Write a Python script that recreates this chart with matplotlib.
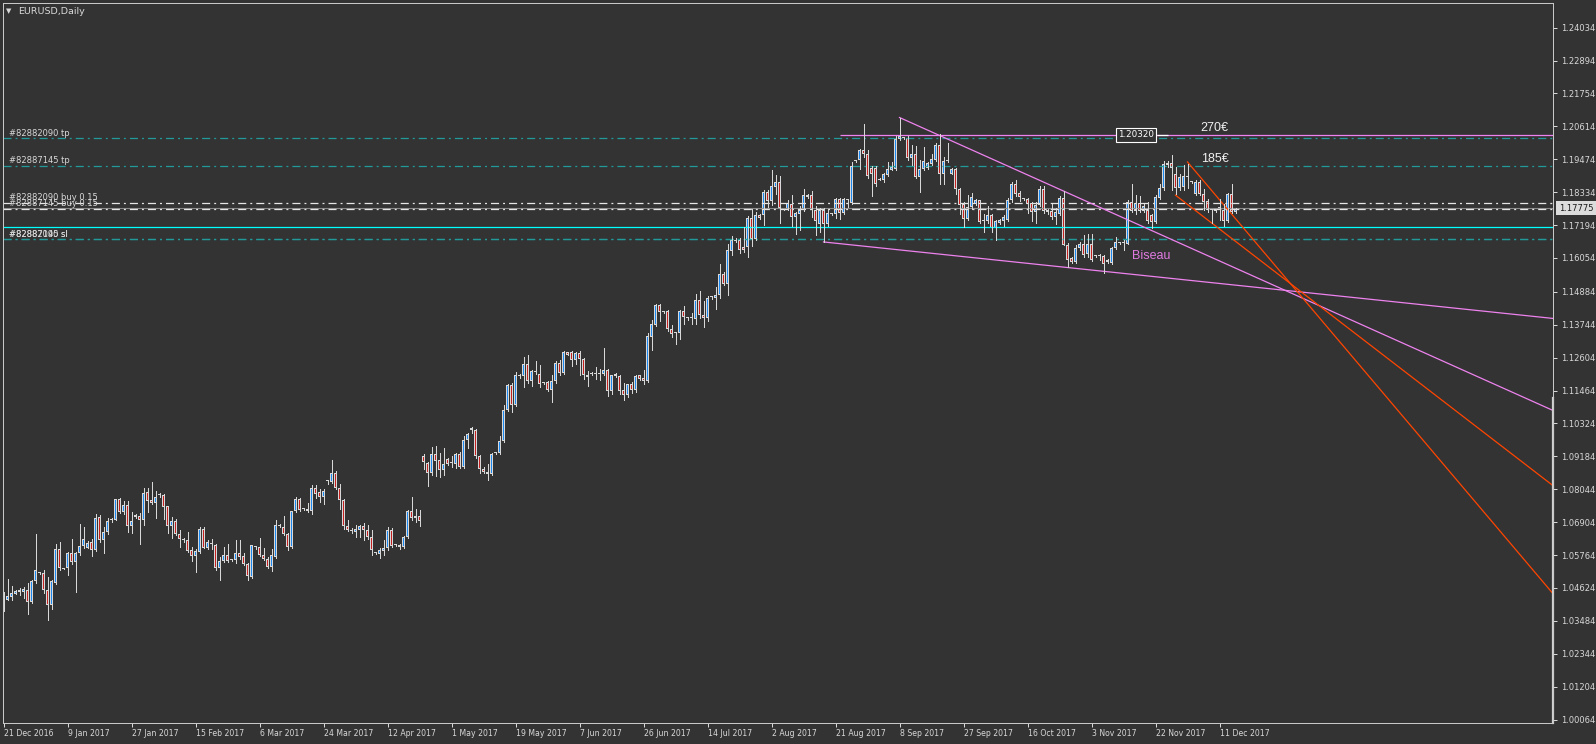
import numpy as np
import matplotlib
matplotlib.use('Agg')
import matplotlib.pyplot as plt
from matplotlib.transforms import blended_transform_factory

plt.rcParams['lines.scale_dashes'] = False

# ---- EURUSD daily bars (index 0 = 21 Dec 2016)
opens = [
    1.0388, 1.0422, 1.0431, 1.0443, 1.0449, 1.0449, 1.0457, 1.0413, 1.0487, 1.0516,
    1.0515, 1.0457, 1.0405, 1.0481, 1.0599, 1.0529, 1.0530, 1.0582, 1.0553, 1.0582,
    1.0607, 1.0602, 1.0620, 1.0593, 1.0709, 1.0628, 1.0655, 1.0699, 1.0699, 1.0770,
    1.0726, 1.0749, 1.0678, 1.0715, 1.0711, 1.0697, 1.0795, 1.0766, 1.0757, 1.0786,
    1.0784, 1.0745, 1.0677, 1.0694, 1.0651, 1.0630, 1.0630, 1.0593, 1.0573, 1.0587,
    1.0666, 1.0602, 1.0614, 1.0610, 1.0533, 1.0555, 1.0575, 1.0558, 1.0558, 1.0585,
    1.0572, 1.0546, 1.0501, 1.0605, 1.0605, 1.0578, 1.0564, 1.0535, 1.0570, 1.0678,
    1.0675, 1.0648, 1.0605, 1.0728, 1.0769, 1.0737, 1.0737, 1.0729, 1.0810, 1.0794,
    1.0778, 1.0833, 1.0829, 1.0862, 1.0810, 1.0766, 1.0678, 1.0660, 1.0656, 1.0665,
    1.0676, 1.0665, 1.0639, 1.0583, 1.0581, 1.0591, 1.0602, 1.0665, 1.0611, 1.0610,
    1.0605, 1.0639, 1.0728, 1.0713, 1.0713, 1.0919, 1.0897, 1.0862, 1.0926, 1.0904,
    1.0872, 1.0908, 1.0896, 1.0893, 1.0926, 1.0882, 1.0976, 1.1018, 1.1011, 1.0921,
    1.0876, 1.0864, 1.0856, 1.0930, 1.0931, 1.0972, 1.1078, 1.1165, 1.1097, 1.1196,
    1.1196, 1.1237, 1.1180, 1.1212, 1.1205, 1.1172, 1.1175, 1.1147, 1.1178, 1.1240,
    1.1208, 1.1279, 1.1279, 1.1253, 1.1275, 1.1256, 1.1201, 1.1204, 1.1205, 1.1204,
    1.1205, 1.1217, 1.1145, 1.1205, 1.1196, 1.1147, 1.1130, 1.1168, 1.1147, 1.1199,
    1.1191, 1.1178, 1.1332, 1.1372, 1.1442, 1.1419, 1.1421, 1.1361, 1.1346, 1.1346,
    1.1421, 1.1397, 1.1399, 1.1395, 1.1461, 1.1409, 1.1399, 1.1470, 1.1468, 1.1476,
    1.1551, 1.1517, 1.1630, 1.1663, 1.1667, 1.1644, 1.1644, 1.1745, 1.1670, 1.1753,
    1.1753, 1.1834, 1.1803, 1.1851, 1.1869, 1.1773, 1.1773, 1.1794, 1.1748, 1.1759,
    1.1771, 1.1823, 1.1823, 1.1773, 1.1722, 1.1773, 1.1724, 1.1757, 1.1759, 1.1811,
    1.1761, 1.1805, 1.1796, 1.1941, 1.1944, 1.1978, 1.1967, 1.1918, 1.1918, 1.1878,
    1.1875, 1.1892, 1.1911, 1.1915, 1.2017, 1.2020, 1.2022, 1.1953, 1.1965, 1.1886,
    1.1915, 1.1918, 1.1930, 1.1946, 1.1996, 1.1895, 1.1940, 1.1898, 1.1915, 1.1846,
    1.1794, 1.1742, 1.1782, 1.1791, 1.1805, 1.1733, 1.1734, 1.1756, 1.1711, 1.1727,
    1.1734, 1.1738, 1.1808, 1.1860, 1.1832, 1.1810, 1.1810, 1.1796, 1.1765, 1.1788,
    1.1846, 1.1771, 1.1768, 1.1748, 1.1759, 1.1814, 1.1652, 1.1606, 1.1592, 1.1641,
    1.1653, 1.1618, 1.1653, 1.1612, 1.1612, 1.1611, 1.1600, 1.1588, 1.1641, 1.1657,
    1.1658, 1.1655, 1.1799, 1.1768, 1.1796, 1.1768, 1.1771, 1.1753, 1.1730, 1.1814,
    1.1849, 1.1935, 1.1935, 1.1898, 1.1849, 1.1851, 1.1886, 1.1869, 1.1828, 1.1869,
    1.1828, 1.1803, 1.1773, 1.1768, 1.1771, 1.1773, 1.1734, 1.1826, 1.1765,
]
highs = [
    1.0449, 1.0495, 1.0468, 1.0457, 1.0464, 1.0466, 1.0478, 1.0491, 1.0651, 1.0517,
    1.0526, 1.0501, 1.0491, 1.0614, 1.0620, 1.0531, 1.0586, 1.0631, 1.0586, 1.0683,
    1.0672, 1.0625, 1.0633, 1.0718, 1.0714, 1.0672, 1.0706, 1.0706, 1.0769, 1.0773,
    1.0764, 1.0764, 1.0726, 1.0718, 1.0722, 1.0810, 1.0809, 1.0829, 1.0797, 1.0790,
    1.0789, 1.0748, 1.0709, 1.0702, 1.0665, 1.0636, 1.0655, 1.0606, 1.0599, 1.0675,
    1.0675, 1.0628, 1.0631, 1.0614, 1.0571, 1.0605, 1.0616, 1.0562, 1.0628, 1.0628,
    1.0582, 1.0550, 1.0613, 1.0609, 1.0636, 1.0600, 1.0570, 1.0598, 1.0697, 1.0683,
    1.0711, 1.0653, 1.0728, 1.0776, 1.0774, 1.0741, 1.0757, 1.0818, 1.0820, 1.0805,
    1.0807, 1.0838, 1.0905, 1.0868, 1.0824, 1.0769, 1.0699, 1.0669, 1.0680, 1.0682,
    1.0687, 1.0681, 1.0665, 1.0587, 1.0602, 1.0628, 1.0672, 1.0669, 1.0616, 1.0614,
    1.0644, 1.0732, 1.0776, 1.0737, 1.0734, 1.0928, 1.0899, 1.0951, 1.0953, 1.0931,
    1.0946, 1.0911, 1.0919, 1.0930, 1.0934, 1.0988, 1.0999, 1.1020, 1.1013, 1.0924,
    1.0882, 1.0891, 1.0931, 1.0934, 1.0988, 1.1095, 1.1168, 1.1171, 1.1210, 1.1205,
    1.1263, 1.1268, 1.1219, 1.1248, 1.1234, 1.1176, 1.1179, 1.1199, 1.1248, 1.1253,
    1.1282, 1.1281, 1.1282, 1.1281, 1.1282, 1.1260, 1.1214, 1.1209, 1.1228, 1.1222,
    1.1295, 1.1222, 1.1199, 1.1207, 1.1199, 1.1173, 1.1170, 1.1176, 1.1199, 1.1199,
    1.1219, 1.1346, 1.1390, 1.1445, 1.1445, 1.1422, 1.1424, 1.1375, 1.1349, 1.1424,
    1.1438, 1.1401, 1.1415, 1.1480, 1.1490, 1.1455, 1.1473, 1.1473, 1.1505, 1.1584,
    1.1557, 1.1655, 1.1681, 1.1676, 1.1676, 1.1713, 1.1750, 1.1776, 1.1763, 1.1757,
    1.1842, 1.1840, 1.1909, 1.1892, 1.1888, 1.1776, 1.1808, 1.1823, 1.1765, 1.1784,
    1.1846, 1.1828, 1.1838, 1.1784, 1.1780, 1.1780, 1.1776, 1.1760, 1.1814, 1.1814,
    1.1814, 1.1811, 1.1938, 1.1945, 1.1984, 1.2069, 1.1981, 1.1923, 1.1923, 1.1881,
    1.1900, 1.1938, 1.1938, 1.2027, 1.2092, 1.2024, 1.2027, 1.1996, 1.1992, 1.1944,
    1.1990, 1.1938, 1.1967, 1.2004, 1.2036, 1.1955, 1.2004, 1.1918, 1.1918, 1.1849,
    1.1799, 1.1823, 1.1831, 1.1811, 1.1808, 1.1759, 1.1784, 1.1759, 1.1736, 1.1742,
    1.1753, 1.1814, 1.1869, 1.1877, 1.1838, 1.1813, 1.1814, 1.1799, 1.1799, 1.1854,
    1.1854, 1.1776, 1.1791, 1.1780, 1.1819, 1.1838, 1.1657, 1.1609, 1.1652, 1.1661,
    1.1684, 1.1690, 1.1688, 1.1617, 1.1618, 1.1615, 1.1603, 1.1644, 1.1678, 1.1661,
    1.1669, 1.1808, 1.1863, 1.1823, 1.1819, 1.1794, 1.1799, 1.1759, 1.1823, 1.1863,
    1.1941, 1.1941, 1.1961, 1.1921, 1.1898, 1.1926, 1.1932, 1.1872, 1.1874, 1.1874,
    1.1846, 1.1811, 1.1776, 1.1775, 1.1811, 1.1794, 1.1831, 1.1863, 1.1780,
]
lows = [
    1.0383, 1.0420, 1.0422, 1.0441, 1.0437, 1.0429, 1.0371, 1.0411, 1.0480, 1.0510,
    1.0445, 1.0351, 1.0388, 1.0475, 1.0524, 1.0527, 1.0508, 1.0545, 1.0449, 1.0576,
    1.0602, 1.0600, 1.0572, 1.0591, 1.0622, 1.0584, 1.0648, 1.0690, 1.0697, 1.0722,
    1.0718, 1.0655, 1.0653, 1.0706, 1.0614, 1.0681, 1.0726, 1.0755, 1.0704, 1.0778,
    1.0700, 1.0653, 1.0637, 1.0645, 1.0603, 1.0622, 1.0587, 1.0556, 1.0518, 1.0585,
    1.0600, 1.0599, 1.0596, 1.0526, 1.0491, 1.0553, 1.0551, 1.0555, 1.0549, 1.0564,
    1.0541, 1.0491, 1.0498, 1.0596, 1.0573, 1.0561, 1.0530, 1.0521, 1.0568, 1.0674,
    1.0645, 1.0595, 1.0602, 1.0725, 1.0729, 1.0734, 1.0726, 1.0718, 1.0775, 1.0760,
    1.0755, 1.0824, 1.0826, 1.0807, 1.0736, 1.0668, 1.0660, 1.0653, 1.0639, 1.0639,
    1.0630, 1.0632, 1.0576, 1.0580, 1.0568, 1.0575, 1.0595, 1.0605, 1.0607, 1.0599,
    1.0602, 1.0637, 1.0697, 1.0691, 1.0676, 1.0876, 1.0816, 1.0853, 1.0851, 1.0847,
    1.0853, 1.0887, 1.0882, 1.0879, 1.0877, 1.0879, 1.0947, 1.0999, 1.0913, 1.0859,
    1.0859, 1.0836, 1.0853, 1.0926, 1.0926, 1.0968, 1.1076, 1.1072, 1.1094, 1.1191,
    1.1159, 1.1173, 1.1161, 1.1205, 1.1159, 1.1168, 1.1145, 1.1107, 1.1173, 1.1199,
    1.1205, 1.1268, 1.1230, 1.1237, 1.1199, 1.1188, 1.1161, 1.1199, 1.1188, 1.1182,
    1.1199, 1.1126, 1.1136, 1.1193, 1.1136, 1.1113, 1.1124, 1.1138, 1.1140, 1.1184,
    1.1170, 1.1176, 1.1286, 1.1369, 1.1387, 1.1415, 1.1353, 1.1332, 1.1307, 1.1324,
    1.1376, 1.1390, 1.1376, 1.1378, 1.1399, 1.1367, 1.1387, 1.1465, 1.1430, 1.1468,
    1.1511, 1.1476, 1.1615, 1.1660, 1.1623, 1.1626, 1.1609, 1.1646, 1.1667, 1.1742,
    1.1719, 1.1782, 1.1788, 1.1828, 1.1727, 1.1770, 1.1771, 1.1715, 1.1688, 1.1704,
    1.1768, 1.1814, 1.1748, 1.1684, 1.1696, 1.1661, 1.1715, 1.1753, 1.1745, 1.1742,
    1.1759, 1.1782, 1.1791, 1.1938, 1.1915, 1.1955, 1.1884, 1.1819, 1.1854, 1.1874,
    1.1869, 1.1888, 1.1909, 1.1911, 1.2013, 1.2016, 1.1946, 1.1926, 1.1884, 1.1834,
    1.1909, 1.1915, 1.1926, 1.1941, 1.1861, 1.1863, 1.1938, 1.1895, 1.1828, 1.1759,
    1.1713, 1.1736, 1.1776, 1.1788, 1.1727, 1.1696, 1.1727, 1.1696, 1.1669, 1.1722,
    1.1715, 1.1734, 1.1799, 1.1819, 1.1803, 1.1806, 1.1761, 1.1734, 1.1727, 1.1784,
    1.1761, 1.1759, 1.1742, 1.1724, 1.1753, 1.1649, 1.1574, 1.1588, 1.1588, 1.1634,
    1.1609, 1.1609, 1.1595, 1.1609, 1.1600, 1.1554, 1.1588, 1.1586, 1.1638, 1.1655,
    1.1634, 1.1653, 1.1765, 1.1759, 1.1765, 1.1764, 1.1727, 1.1711, 1.1727, 1.1811,
    1.1842, 1.1921, 1.1840, 1.1828, 1.1840, 1.1842, 1.1849, 1.1865, 1.1823, 1.1823,
    1.1771, 1.1765, 1.1727, 1.1766, 1.1736, 1.1715, 1.1730, 1.1761, 1.1762,
]
closes = [
    1.0422, 1.0434, 1.0446, 1.0453, 1.0456, 1.0458, 1.0414, 1.0488, 1.0524, 1.0515,
    1.0457, 1.0405, 1.0486, 1.0599, 1.0530, 1.0530, 1.0582, 1.0553, 1.0582, 1.0609,
    1.0633, 1.0617, 1.0593, 1.0706, 1.0628, 1.0655, 1.0694, 1.0700, 1.0769, 1.0726,
    1.0749, 1.0678, 1.0694, 1.0709, 1.0697, 1.0793, 1.0764, 1.0757, 1.0777, 1.0787,
    1.0743, 1.0677, 1.0694, 1.0648, 1.0632, 1.0631, 1.0591, 1.0573, 1.0590, 1.0666,
    1.0602, 1.0621, 1.0615, 1.0533, 1.0555, 1.0575, 1.0556, 1.0559, 1.0585, 1.0570,
    1.0546, 1.0503, 1.0613, 1.0606, 1.0578, 1.0564, 1.0535, 1.0575, 1.0682, 1.0679,
    1.0648, 1.0605, 1.0728, 1.0769, 1.0734, 1.0738, 1.0729, 1.0810, 1.0789, 1.0778,
    1.0797, 1.0834, 1.0862, 1.0810, 1.0766, 1.0676, 1.0662, 1.0659, 1.0667, 1.0676,
    1.0665, 1.0639, 1.0593, 1.0584, 1.0593, 1.0602, 1.0665, 1.0609, 1.0610, 1.0605,
    1.0639, 1.0728, 1.0706, 1.0706, 1.0695, 1.0899, 1.0862, 1.0926, 1.0902, 1.0872,
    1.0891, 1.0893, 1.0895, 1.0926, 1.0882, 1.0976, 1.0995, 1.1011, 1.0920, 1.0876,
    1.0864, 1.0856, 1.0928, 1.0931, 1.0972, 1.1078, 1.1165, 1.1097, 1.1201, 1.1195,
    1.1237, 1.1180, 1.1213, 1.1212, 1.1170, 1.1172, 1.1147, 1.1180, 1.1240, 1.1208,
    1.1280, 1.1271, 1.1253, 1.1275, 1.1256, 1.1201, 1.1193, 1.1205, 1.1204, 1.1205,
    1.1217, 1.1145, 1.1199, 1.1196, 1.1145, 1.1130, 1.1168, 1.1147, 1.1196, 1.1188,
    1.1178, 1.1334, 1.1376, 1.1442, 1.1419, 1.1418, 1.1360, 1.1341, 1.1345, 1.1421,
    1.1401, 1.1396, 1.1400, 1.1461, 1.1407, 1.1399, 1.1468, 1.1471, 1.1476, 1.1551,
    1.1517, 1.1632, 1.1667, 1.1664, 1.1634, 1.1632, 1.1745, 1.1670, 1.1756, 1.1745,
    1.1834, 1.1803, 1.1854, 1.1869, 1.1779, 1.1772, 1.1796, 1.1748, 1.1761, 1.1773,
    1.1825, 1.1817, 1.1771, 1.1734, 1.1773, 1.1722, 1.1761, 1.1757, 1.1811, 1.1761,
    1.1811, 1.1806, 1.1923, 1.1942, 1.1978, 1.1965, 1.1888, 1.1895, 1.1863, 1.1877,
    1.1895, 1.1915, 1.1921, 1.2019, 1.2027, 1.2021, 1.1953, 1.1965, 1.1886, 1.1915,
    1.1942, 1.1935, 1.1950, 1.1996, 1.1895, 1.1940, 1.1941, 1.1915, 1.1846, 1.1788,
    1.1742, 1.1782, 1.1817, 1.1805, 1.1730, 1.1734, 1.1756, 1.1711, 1.1734, 1.1736,
    1.1748, 1.1808, 1.1860, 1.1826, 1.1817, 1.1810, 1.1794, 1.1765, 1.1790, 1.1846,
    1.1768, 1.1763, 1.1748, 1.1763, 1.1813, 1.1652, 1.1597, 1.1592, 1.1641, 1.1653,
    1.1615, 1.1653, 1.1597, 1.1613, 1.1611, 1.1586, 1.1592, 1.1641, 1.1661, 1.1658,
    1.1657, 1.1799, 1.1768, 1.1796, 1.1768, 1.1784, 1.1734, 1.1730, 1.1817, 1.1849,
    1.1930, 1.1926, 1.1918, 1.1849, 1.1886, 1.1888, 1.1885, 1.1868, 1.1869, 1.1828,
    1.1799, 1.1773, 1.1772, 1.1773, 1.1782, 1.1734, 1.1826, 1.1765, 1.1776,
]

date_labels = ['21 Dec 2016', '9 Jan 2017', '27 Jan 2017', '15 Feb 2017', '6 Mar 2017',
               '24 Mar 2017', '12 Apr 2017', '1 May 2017', '19 May 2017', '7 Jun 2017',
               '26 Jun 2017', '14 Jul 2017', '2 Aug 2017', '21 Aug 2017', '8 Sep 2017',
               '27 Sep 2017', '16 Oct 2017', '3 Nov 2017', '22 Nov 2017', '11 Dec 2017']
date_bars = [0, 16, 32, 48, 64, 80, 96, 112, 128, 144,
             160, 176, 192, 208, 224, 240, 256, 272, 288, 304]

price_ticks = [1.24034, 1.22894, 1.21754, 1.20614, 1.19474, 1.18334, 1.17194, 1.16054,
               1.14884, 1.13744, 1.12604, 1.11464, 1.10324, 1.09184, 1.08044, 1.06904,
               1.05764, 1.04624, 1.03484, 1.02344, 1.01204, 1.00064]

# order levels
tp_levels = [1.2021, 1.1925]
tp_names = ['#82882090 tp', '#82887145 tp']
buy_levels = [1.1797, 1.17765]
buy_names = ['#82882090 buy 0.15', '#82887145 buy 0.15']
sl_levels = [1.1670, 1.1670]
sl_names = ['#82882090 sl', '#82887145 sl']
cyan_level = 1.1714
bid = 1.17775
resist_level = 1.2032
resist_from = 209

# trend lines: two anchor points (bar, price), drawn as rays to the right
upper_wedge = [(224, 1.2092), (300, 1.1620)]
lower_wedge = [(205, 1.1661), (300, 1.1523)]
channel_a = [(296, 1.1938), (340, 1.1218)]
channel_b = [(293, 1.1823), (340, 1.1322)]

bg = '#333333'
fg = '#d8d8d8'
up_col = '#1a86f0'
dn_col = '#c42020'
teal = '#229a9a'
violet = '#ee82ee'
orange = '#ff4500'
dashdot = (0, (5.8, 2.9, 1.4, 2.9))

W, H = 1596, 744
fig = plt.figure(figsize=(W / 100, H / 100), dpi=100, facecolor=bg)
# 4 px per bar, bar centres on pixel centres
ax = fig.add_axes([3 / W, (H - 723) / H, 1550 / W, 720 / H])
ax.set_facecolor(bg)
ax.set_xlim(-0.125, 387.375)
ax.set_ylim(0.99948, 1.24886)
px = (1.24886 - 0.99948) / 720

# horizontal levels
ax.axhline(bid, color='#8a8a8a', lw=0.8, snap=True)
for lvl in tp_levels + sl_levels:
    ax.axhline(lvl, color=teal, lw=0.9, ls=dashdot, snap=True)
for lvl in buy_levels:
    ax.axhline(lvl, color='#e6e6e6', lw=0.9, ls=dashdot, snap=True)
ax.axhline(cyan_level, color='#00ffff', lw=0.9, snap=True)
ax.hlines(resist_level, resist_from, 390, color=violet, lw=0.9, snap=True)
ax.hlines(resist_level, 288.3, 291.0, color='white', lw=0.9, snap=True)


def ray(pts, color):
    (x0, y0), (x1, y1) = pts
    k = (y1 - y0) / (x1 - x0)
    xs = np.array([x0, 390.0])
    ax.plot(xs, y0 + k * (xs - x0), color=color, lw=0.9)


ray(upper_wedge, violet)
ray(lower_wedge, violet)
ray(channel_a, orange)
ray(channel_b, orange)

# candles
o = np.array(opens); h = np.array(highs); l = np.array(lows); c = np.array(closes)
x = np.arange(len(o))
up = c >= o
ax.vlines(x, l, h, colors=fg, lw=0.72, antialiased=False)
bot = np.minimum(o, c)
top = np.maximum(o, c)
ax.bar(x, np.maximum(top - bot, px), 0.75, bot, color=fg, lw=0)
inner = top - bot - 2 * px
m = inner > 0
ax.bar(x[m], inner[m], 0.25, bot[m] + px,
       color=np.where(up, up_col, dn_col)[m], lw=0)

# order labels
for lvl, name in zip(tp_levels + buy_levels + sl_levels, tp_names + buy_names + sl_names):
    ax.text(1.4, lvl + 2.5 * px, name, color=fg, fontsize=6, va='baseline', ha='left')

ax.text(283.2, resist_level, '1.20320', color='white', fontsize=6.3, ha='center', va='center',
        bbox=dict(boxstyle='square,pad=0.25', fc=bg, ec='white', lw=0.8))
ax.text(302.8, 1.2055, '270€', color='#f0f0f0', fontsize=9, family='Liberation Sans',
        ha='center', va='center')
ax.text(302.8, 1.1947, '185€', color='#f0f0f0', fontsize=9, family='Liberation Sans',
        ha='center', va='center')
ax.text(286.8, 1.1611, 'Biseau', color='#e07ae0', fontsize=9, family='Liberation Sans',
        ha='center', va='center')

# title
fig.text(8.5 / W, 1 - 11 / H, '▼', fontsize=5, color=fg, ha='center', va='center')
fig.text(18 / W, 1 - 11 / H, 'EURUSD,Daily', fontsize=6.8, color=fg, va='center')

# axes
ax.yaxis.tick_right()
ax.set_yticks(price_ticks)
ax.set_yticklabels([f'{v:.5f}' for v in price_ticks])
ax.set_xticks(date_bars)
ax.set_xticklabels(date_labels, ha='left')
ax.tick_params(colors=fg, labelsize=6, length=3, width=0.72, direction='out')
ax.tick_params(axis='y', pad=3)
ax.tick_params(axis='x', pad=1.5, labelsize=5.6)
for s in ax.spines.values():
    s.set_color('#c8c8c8')
    s.set_linewidth(0.72)
ax.plot([1, 1], [0, 0.451], transform=ax.transAxes, color='#d0d0d0', lw=1.6, clip_on=False)

trans = blended_transform_factory(ax.transAxes, ax.transData)
ax.text(1.0037, bid, '1.17775', transform=trans, fontsize=6, color='#1a1a1a', ha='left',
        va='center', clip_on=False,
        bbox=dict(boxstyle='square,pad=0.3', fc='#dcdcdc', ec='none'))

fig.savefig('out.png', dpi=100, facecolor=bg)
